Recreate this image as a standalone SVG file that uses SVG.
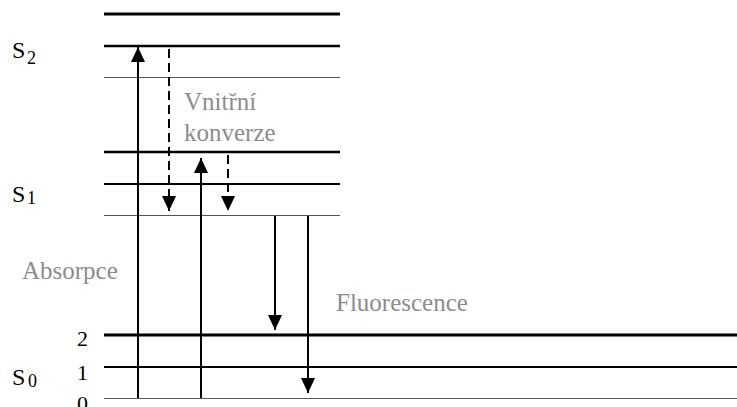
<svg xmlns="http://www.w3.org/2000/svg" width="737" height="407" viewBox="0 0 737 407">
<style>
.lv{stroke:#000;fill:none}
.thin{stroke:#555;stroke-width:1}
.lab{font-family:"Liberation Serif","Times New Roman",serif;fill:#000}
.gray{font-family:"Liberation Serif","Times New Roman",serif;fill:#8c8c8c;font-size:25px}
.arr{stroke:#000;stroke-width:2;fill:none;marker-end:url(#ah)}
.dash{stroke-dasharray:9,5}
</style>
<defs>
<marker id="ah" markerUnits="userSpaceOnUse" markerWidth="16" markerHeight="14" refX="15" refY="7" orient="auto" viewBox="0 0 16 14">
<path d="M0,0 L15,7 L0,14 z" fill="#000"/>
</marker>
</defs>
<rect width="737" height="407" fill="#fff"/>
<g id="levels">
<line class="lv" x1="104" y1="14" x2="340" y2="14" stroke-width="3"/>
<line class="lv" x1="104" y1="46" x2="340" y2="46" stroke-width="2.5"/>
<line class="thin" x1="104" y1="77.5" x2="340" y2="77.5"/>
<line class="lv" x1="104" y1="152" x2="340" y2="152" stroke-width="2.7"/>
<line class="lv" x1="104" y1="184" x2="340" y2="184" stroke-width="2"/>
<line class="thin" x1="104" y1="215.5" x2="340" y2="215.5"/>
<line class="lv" x1="104" y1="335" x2="737" y2="335" stroke-width="3"/>
<line class="lv" x1="104" y1="367" x2="737" y2="367" stroke-width="2"/>
<line class="thin" x1="104" y1="398.5" x2="737" y2="398.5"/>
</g>
<g id="S2"><text class="lab" x="12" y="58" font-size="24">S</text><text class="lab" x="27" y="64" font-size="18">2</text></g>
<g id="S1"><text class="lab" x="12" y="202" font-size="24">S</text><text class="lab" x="27" y="204" font-size="18">1</text></g>
<g id="S0"><text class="lab" x="12" y="385" font-size="24">S</text><text class="lab" x="28" y="387" font-size="18">0</text></g>
<g id="v2"><text class="lab" x="77" y="346" font-size="22">2</text></g>
<g id="v1"><text class="lab" x="77" y="380" font-size="22">1</text></g>
<g id="v0"><text class="lab" x="77" y="411" font-size="22">0</text></g>
<g id="vnitrni"><text class="gray" x="184" y="110">Vnitřní</text><text class="gray" x="184" y="141">konverze</text></g>
<g id="absorpce"><text class="gray" x="22" y="279">Absorpce</text></g>
<g id="fluorescence"><text class="gray" x="336" y="311">Fluorescence</text></g>
<g id="connectors">
<line class="arr" x1="138" y1="398" x2="138" y2="47"/>
<line class="arr" x1="201" y1="398" x2="201" y2="158"/>
<line class="arr dash" x1="169" y1="49" x2="169" y2="211"/>
<line class="arr dash" x1="228" y1="155" x2="228" y2="211"/>
<line class="arr" x1="275" y1="216" x2="275" y2="330"/>
<line class="arr" x1="308" y1="216" x2="308" y2="393"/>
</g>
</svg>
